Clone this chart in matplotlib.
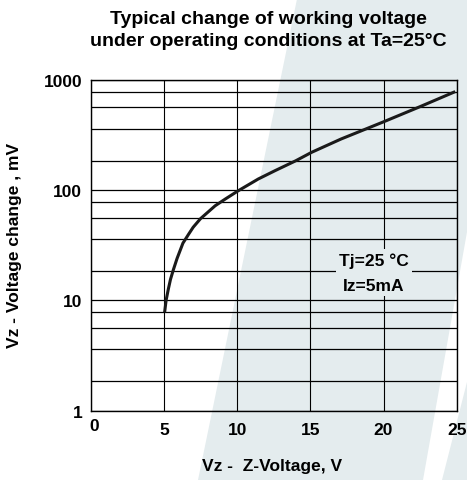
import matplotlib
matplotlib.use("Agg")
import matplotlib.pyplot as plt
from matplotlib.patches import Polygon
from matplotlib.ticker import FixedLocator, NullFormatter
from matplotlib.transforms import ScaledTranslation

plt.rcParams['font.family'] = ['Liberation Sans', 'DejaVu Sans']
plt.rcParams['font.weight'] = 'bold'

# data
vz = [5.05, 5.15, 5.3, 5.45, 5.65, 5.9, 6.3, 6.7, 7.0, 7.5, 8.5, 9.2, 10.05,
      11.45, 12.6, 14.0, 15.1, 17.1, 20.0, 22.5, 24.9]
dvz = [7.8, 10.0, 12.6, 15.5, 19.0, 24.0, 33.0, 40.0, 46.0, 55.0, 72.0, 83.0, 98.0,
       126.0, 150.0, 184.0, 220.0, 290.0, 415.0, 570.0, 780.0]

x_ticks = [0, 5, 10, 15, 20, 25]
x_ticklabels = ['0', '5', '10', '15', '20', '25']
y_ticks = [1, 10, 100, 1000]
y_ticklabels = ['1', '10', '100', '1000']
grid_fracs = [1.85, 3.6, 5.6, 7.8]

title = "Typical change of working voltage\nunder operating conditions at Ta=25\u00b0C"
xlabel = "Vz -  Z-Voltage, V"
ylabel = "Vz - Voltage change , mV"
note = "Tj=25 \u00b0C\nIz=5mA"

W, H = 467, 481
fig = plt.figure(figsize=(W / 100, H / 100), dpi=100)
fig.patch.set_facecolor('white')

wm = '#e4ecee'
bg = fig.add_axes([0, 0, 1, 1], zorder=-5)
bg.set_xlim(0, W)
bg.set_ylim(H, 0)
bg.axis('off')
bg.add_patch(Polygon([(297, 0), (467, 0), (467, 233), (423, 481), (198, 481)],
                     closed=True, facecolor=wm, edgecolor='none'))
bg.add_patch(Polygon([(467, 383), (467, 481), (442, 481)],
                     closed=True, facecolor=wm, edgecolor='none'))

ax = fig.add_axes([90.7 / W, 1 - 411.7 / H, 366 / W, 331 / H], zorder=1)
ax.set_facecolor('none')
ax.set_yscale('log')
ax.set_xlim(0, 25)
ax.set_ylim(1, 1000)

minor = [f * 10 ** k for k in range(0, 3) for f in grid_fracs]
ax.yaxis.set_major_locator(FixedLocator(y_ticks))
ax.yaxis.set_minor_locator(FixedLocator(minor))
ax.yaxis.set_minor_formatter(NullFormatter())
ax.set_yticks(y_ticks)
ax.set_yticklabels(y_ticklabels)
ax.set_xticks(x_ticks)
ax.set_xticklabels(x_ticklabels)
ax.tick_params(which='both', length=0)
ax.tick_params(axis='y', pad=6, labelsize=12.5)
ax.tick_params(axis='x', pad=8, labelsize=12.5)
ax.grid(True, which='both', axis='y', color='black', linewidth=0.9)
ax.grid(True, which='major', axis='x', color='black', linewidth=0.8)
for s in ax.spines.values():
    s.set_linewidth(1.0)
    s.set_color('black')
ax.set_axisbelow(True)

ax.plot(vz, dvz, color='#1a1a1a', linewidth=2.2, solid_capstyle='butt', zorder=3)

ax.text(20.0 - 0.65, 10 ** (3 - (273.5 - 80.7) / 110.3), note, ha='center', va='center',
        fontsize=12.5, fontweight='bold', linespacing=1.85, zorder=4,
        bbox=dict(boxstyle='square,pad=0.2', facecolor=wm, edgecolor='none'))

ax.set_xlabel(xlabel, fontsize=12.5, fontweight='bold')
ax.xaxis.set_label_coords((272 - 90.7) / 366, -(467 - 411.7) / 331)
ax.xaxis.label.set_va('center')
ax.set_ylabel(ylabel, fontsize=12.5, fontweight='bold')
ax.yaxis.set_label_coords((15 - 90.7) / 366, (411.7 - 245) / 331)
ax.yaxis.label.set_va('center')

fig.text(268 / W, 1 - 30.5 / H, title, ha='center', va='center', fontsize=14,
         fontweight='bold', linespacing=1.4)

lbl0 = ax.get_xticklabels()[0]
lbl0.set_transform(lbl0.get_transform() + ScaledTranslation(3 / 100, 4 / 100, fig.dpi_scale_trans))

fig.savefig('out.png', dpi=100, facecolor='white')
